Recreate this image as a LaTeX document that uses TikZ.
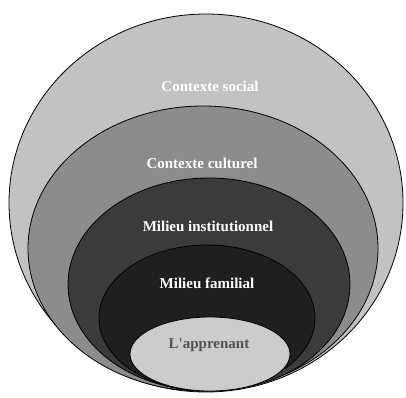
\documentclass[tikz,border=0pt]{standalone}
\usepackage{fontspec}
\setmainfont{Liberation Serif}
\begin{document}
\begin{tikzpicture}[x=1pt,y=-1pt,
  ring/.style={draw=black,line width=0.8pt},
  lab/.style={font=\bfseries\fontsize{15}{17}\selectfont,text=white,inner sep=0pt}]
\useasboundingbox (0,0) rectangle (406,397);
% nested ellipses, all touching near the bottom
\filldraw[ring,fill=black!24] (206,203) ellipse [x radius=197,y radius=189];
\filldraw[ring,fill=black!45] (203,248.5) ellipse [x radius=175,y radius=142.5];
\filldraw[ring,fill=black!77] (209,284.5) ellipse [x radius=141,y radius=106.5];
\filldraw[ring,fill=black!88] (207,318) ellipse [x radius=108,y radius=73];
\filldraw[ring,fill=black!20] (210,354) ellipse [x radius=80,y radius=37];
% labels
\node[lab] (social) at (210,86) {Contexte social};
\node[lab] (culturel) at (202,163) {Contexte culturel};
\node[lab] (institution) at (208,226) {Milieu institutionnel};
\node[lab] (famille) at (207,283) {Milieu familial};
\node[lab,text=black!68] (apprenant) at (209,345) {L\textquotesingle apprenant};
\end{tikzpicture}
\end{document}
